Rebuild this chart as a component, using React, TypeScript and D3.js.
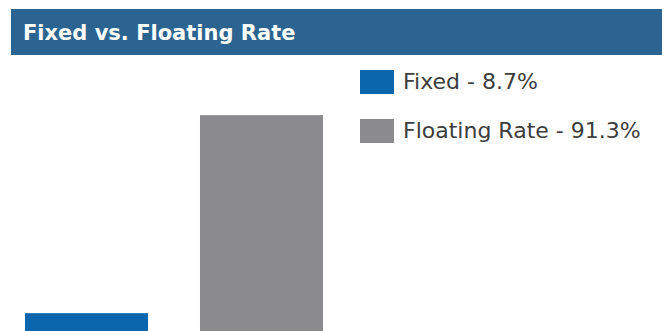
import React from "react";
import * as d3 from "d3";

const title = "Fixed vs. Floating Rate";
const categories = ["Fixed", "Floating Rate"];
const values = [8.7, 91.3];
const colors = ["#0b66ae", "#8b8b8d"];
const legendLabels = ["Fixed - 8.7%", "Floating Rate - 91.3%"];

const W = 662;
const H = 331;

export default function App() {
  const x = d3
    .scaleBand<string>()
    .domain(categories)
    .range([25, 323])
    .paddingInner(0.297)
    .paddingOuter(0);
  const y = d3.scaleLinear().domain([0, 100]).range([334, 94.3]);

  return (
    <div style={{ position: "absolute", left: 0, top: 0 }}>
      <svg width={W} height={H} style={{ display: "block", background: "#fff" }}>
        <rect x={11} y={9} width={W - 11} height={46} fill="#2c6491" />
        <text
          x={23}
          y={40}
          fill="#ffffff"
          fontFamily="DejaVu Sans"
          fontWeight="bold"
          fontSize={21}
        >
          {title}
        </text>
        {categories.map((c, i) => (
          <rect
            key={c}
            x={x(c)}
            y={y(values[i])}
            width={x.bandwidth()}
            height={y(0) - y(values[i])}
            fill={colors[i]}
          />
        ))}
        {legendLabels.map((l, i) => (
          <g key={l} transform={`translate(360, ${70 + i * 49})`}>
            <rect x={0} y={0} width={34} height={24} fill={colors[i]} />
            <text
              x={43}
              y={19}
              fill="#3d3d3d"
              fontFamily="DejaVu Sans"
              fontSize={22}
            >
              {l}
            </text>
          </g>
        ))}
      </svg>
    </div>
  );
}
